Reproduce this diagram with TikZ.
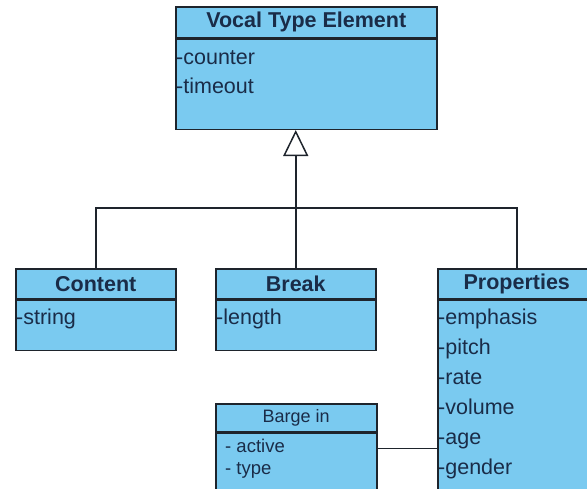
\documentclass[tikz,border=0pt]{standalone}
\usepackage{fontspec}
\setmainfont{Liberation Sans}
\usetikzlibrary{arrows.meta,positioning}
\definecolor{umlfill}{RGB}{122,202,240}
\definecolor{umlink}{RGB}{26,44,72}
\definecolor{umlline}{RGB}{30,36,44}
\begin{document}
\begin{tikzpicture}[x=1pt,y=-1pt]
  \tikzset{classhead/.style={draw=umlline,fill=umlfill,line width=1.5pt,inner sep=0pt,
      text=umlink,font=\fontsize{21.5}{24}\selectfont\bfseries,anchor=north west},
    classbody/.style={draw=umlline,fill=umlfill,line width=1.5pt,inner sep=0pt,anchor=north west},
    attr/.style={anchor=base west,inner sep=0pt,text=umlink,font=\fontsize{21.5}{24}\selectfont},
    smallattr/.style={attr,font=\fontsize{18.5}{20}\selectfont},
    link/.style={draw=umlline,line width=1.5pt},
    gen/.style={link,-{Triangle[open,length=26pt,width=25pt,fill=white]}}}
  \useasboundingbox (0,0) rectangle (587,488);
  \clip (0,0) rectangle (587,488);
  % classes
  \node[classhead,minimum width=261pt,minimum height=31pt] (vtehead) at (175,6) {Vocal Type Element};
  \node[classbody,minimum width=261pt,minimum height=90pt] (vtebody) at (vtehead.south west) {};
  \node[classhead,minimum width=160pt,minimum height=30pt] (conthead) at (15,268) {Content};
  \node[classbody,minimum width=160pt,minimum height=50pt] (contbody) at (conthead.south west) {};
  \node[classhead,minimum width=160pt,minimum height=30pt] (brkhead) at (215,268) {Break};
  \node[classbody,minimum width=160pt,minimum height=50pt] (brkbody) at (brkhead.south west) {};
  \node[classhead,minimum width=158pt,minimum height=30pt] (prophead) at (437,268) {Properties};
  \node[classbody,minimum width=158pt,minimum height=230pt] (propbody) at (prophead.south west) {};
  \node[classhead,minimum width=161pt,minimum height=28pt,font=\fontsize{18}{20}\selectfont] (bargehead) at (215,403) {Barge in};
  \node[classbody,minimum width=161pt,minimum height=80pt] (bargebody) at (bargehead.south west) {};
  % attributes
  \foreach \a [count=\i] in {counter,timeout}
    \node[attr] (vteattr\i) at (176,{64+29*(\i-1)}) {-\a};
  \node[attr] (contattr) at (16,324) {-string};
  \node[attr] (brkattr) at (216,324) {-length};
  \foreach \a [count=\i] in {emphasis,pitch,rate,volume,age,gender}
    \node[attr] (propattr\i) at (438,{324+30*(\i-1)}) {-\a};
  \node[smallattr] (bargeattr1) at (225,452) {- active};
  \node[smallattr] (bargeattr2) at (225,474) {- type};
  % connectors
  \coordinate (split) at (brkhead.north |- 0,208);
  \draw[gen] (split) -- (vtebody.south -| split);
  \draw[link] (conthead.north) |- (split) -| (prophead.north);
  \draw[link] (brkhead.north) -- (split);
  \coordinate (bargeport) at ([yshift=-16pt]bargebody.north east);
  \draw[link] (bargeport) -- (bargeport -| propbody.west);
\end{tikzpicture}
\end{document}
